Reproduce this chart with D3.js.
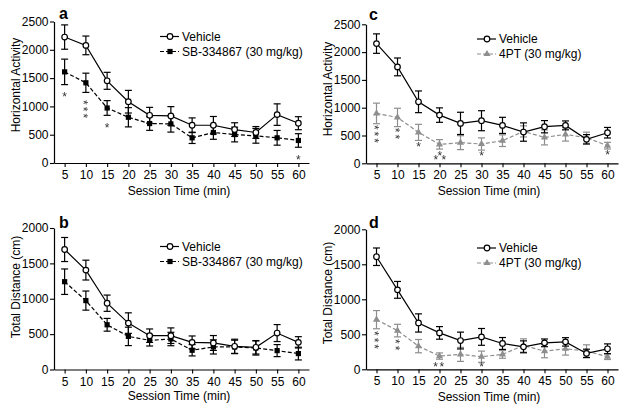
<!DOCTYPE html>
<html><head><meta charset="utf-8">
<script src="https://cdn.jsdelivr.net/npm/d3@7"></script>
<style>body{margin:0;background:#fff} svg{display:block} text{font-family:"Liberation Sans",Arial,Helvetica,sans-serif}</style>
</head><body><svg id="chart" width="627" height="412">
<defs><filter id="gray" x="-50%" y="-50%" width="200%" height="200%"><feColorMatrix type="saturate" values="0"/></filter></defs>
</svg>
<script>
const times = [5,10,15,20,25,30,35,40,45,50,55,60];
const yTicksHA = [0,500,1000,1500,2000,2500];
const yTicksTD = [0,500,1000,1500,2000];

const vehA = [2225,2078,1452,1083,843,831,667,667,591,539,855,703];
const vehAErr = [215,165,150,200,140,165,130,155,120,105,190,115];
const sbA = [1610,1417,972,808,697,691,445,539,503,480,445,398];
const sbAErr = [225,170,130,170,120,145,100,120,130,130,130,120];

const vehB = [1696,1405,937,656,478,478,384,375,328,314,515,384];
const vehBErr = [170,140,115,145,95,110,90,105,100,95,120,80];
const sbB = [1241,974,632,468,412,431,272,319,319,304,267,225];
const sbBErr = [180,135,90,130,80,95,80,100,95,100,85,90];

const vehC = [2153,1734,1106,867,718,766,682,562,658,682,431,550];
const vehCErr = [175,160,195,130,200,180,145,165,110,80,85,95];
const ptC = [897,825,556,341,371,347,407,574,466,520,460,317];
const ptCErr = [185,165,145,85,125,110,105,100,135,120,100,60];

const vehD = [1608,1135,662,520,411,463,369,321,378,392,227,293];
const vehDErr = [125,120,130,90,120,120,85,85,55,60,60,70];
const ptD = [709,553,331,189,213,180,213,340,260,293,260,180];
const ptDErr = [130,90,95,45,100,80,55,95,95,90,90,40];

// significance: [time, number of asterisks]
const sigA = [[5,1],[10,3],[15,1],[60,1]];
const sigB = [];
const sigC = [[5,3],[10,2],[15,1],[20,3],[30,1],[60,1]];
const sigD = [[5,3],[10,2],[20,2],[30,1]];

const vehicleLabel = "Vehicle";
const sbLabel = "SB-334867 (30 mg/kg)";
const ptLabel = "4PT (30 mg/kg)";
const yTitleHA = "Horizontal Activity";
const yTitleTD = "Total Distance (cm)";
const xTitle = "Session Time (min)";

const svg = d3.select("#chart");
const GRAY = "#8e8e8e";

function panel(cfg) {
  const g = svg.append("g");
  const x = d3.scaleLinear().domain([2.5, 62.5]).range([cfg.x0, cfg.x1]);
  const y = d3.scaleLinear().domain([0, cfg.ymax]).range([cfg.yb, cfg.yt]);

  const xa = g.append("g").attr("transform", `translate(0,${cfg.yb})`)
    .call(d3.axisBottom(x).tickValues(times).tickFormat(d3.format("d")).tickSize(4).tickSizeOuter(0).tickPadding(3.5));
  const ya = g.append("g").attr("transform", `translate(${cfg.x0},0)`)
    .call(d3.axisLeft(y).tickValues(cfg.yticks).tickFormat(d3.format("d")).tickSize(4).tickSizeOuter(0).tickPadding(1.5));
  [xa, ya].forEach(a => {
    a.selectAll("path.domain").attr("stroke", "#000").attr("stroke-width", 1.2);
    a.selectAll(".tick line").attr("stroke", "#000").attr("stroke-width", 1.1);
    a.selectAll("text").attr("font-size", 12).attr("fill", "#000")
      .attr("font-family", '"Liberation Sans",Arial,sans-serif');
  });

  // titles
  g.append("text").attr("transform", `translate(${cfg.ytx},${cfg.yty}) rotate(-90)`)
    .attr("text-anchor", "middle").attr("font-size", 12).text(cfg.ytitle);
  g.append("text").attr("x", cfg.xtx).attr("y", cfg.xty).attr("text-anchor", "middle")
    .attr("font-size", 12).text(xTitle);
  g.append("text").attr("x", cfg.lx).attr("y", cfg.ly).attr("font-size", 16)
    .attr("font-weight", "bold").text(cfg.letter);

  const series = [
    {vals: cfg.trt, err: cfg.trtErr, color: cfg.trtColor, dash: "4,2.2", marker: cfg.trtMarker},
    {vals: cfg.veh, err: cfg.vehErr, color: "#000", dash: null, marker: "circle"}
  ];
  const line = d3.line().x((d, i) => x(times[i])).y(d => y(d));
  series.forEach(s => {
    g.append("path").datum(s.vals).attr("d", line).attr("fill", "none")
      .attr("stroke", s.color).attr("stroke-width", 1.2).attr("stroke-dasharray", s.dash);
    const eb = g.append("g").attr("stroke", s.color).attr("stroke-width", 1.2);
    s.vals.forEach((v, i) => {
      const cx = x(times[i]), lo = y(v - s.err[i]), hi = y(v + s.err[i]);
      eb.append("line").attr("x1", cx).attr("x2", cx).attr("y1", lo).attr("y2", hi);
      eb.append("line").attr("x1", cx - 3.5).attr("x2", cx + 3.5).attr("y1", lo).attr("y2", lo);
      eb.append("line").attr("x1", cx - 3.5).attr("x2", cx + 3.5).attr("y1", hi).attr("y2", hi);
    });
    s.vals.forEach((v, i) => drawMarker(g, s.marker, x(times[i]), y(v), s.color));
  });

  // asterisks: one text element per time point
  const fs = 12, step = 6.7, adv = 0.389 * fs, up = 0.57 * fs;
  const sg = g.append("g").attr("filter", "url(#gray)");
  cfg.sig.forEach(([t, n]) => {
    const i = times.indexOf(t);
    const cx = x(t);
    const top = y(cfg.trt[i] - cfg.trtErr[i]) + cfg.gap;
    const txt = sg.append("text").attr("font-size", fs).attr("fill", "#333");
    if (n === 1) {
      txt.attr("x", cx).attr("y", Math.min(top, cfg.yb - 5) + up).attr("text-anchor", "middle").text("*");
    } else if (top + (n - 1) * step <= cfg.yb - 6) {
      // vertical stack: text runs downward
      txt.attr("transform", `translate(${cx - up},${top - adv / 2}) rotate(90)`)
        .attr("letter-spacing", step - adv).text("*".repeat(n));
    } else {
      const by = Math.min(cfg.yb - 5, top + 5);
      if (n === 2) {
        txt.attr("x", cx).attr("y", by + up).attr("text-anchor", "middle")
          .attr("letter-spacing", 1.5).text("**");
      } else {
        txt.attr("x", cx).attr("y", by + up).attr("text-anchor", "middle").attr("letter-spacing", -0.6);
        txt.append("tspan").text("*");
        txt.append("tspan").attr("dy", -4.5).text("*");
        txt.append("tspan").attr("dy", 4.5).text("*");
      }
    }
  });

  // legend
  const rows = [
    {label: vehicleLabel, color: "#000", dash: null, marker: "circle", y: cfg.legY},
    {label: cfg.trtLabel, color: cfg.trtColor, dash: "4,2", marker: cfg.trtMarker, y: cfg.legY + 15}
  ];
  rows.forEach(r => {
    g.append("line").attr("x1", cfg.legX).attr("x2", cfg.legX + 19).attr("y1", r.y).attr("y2", r.y)
      .attr("stroke", r.color).attr("stroke-width", 1.2).attr("stroke-dasharray", r.dash);
    drawMarker(g, r.marker, cfg.legX + 10, r.y, r.color);
    g.append("text").attr("x", cfg.legX + 22).attr("y", r.y + 4.3).attr("font-size", 12).text(r.label);
  });
}

function drawMarker(g, type, cx, cy, color) {
  if (type === "circle") {
    g.append("circle").attr("cx", cx).attr("cy", cy).attr("r", 2.8)
      .attr("fill", "#fff").attr("stroke", "#000").attr("stroke-width", 1.2);
  } else if (type === "square") {
    g.append("rect").attr("x", cx - 2.6).attr("y", cy - 2.6).attr("width", 5.2).attr("height", 5.2).attr("fill", color);
  } else {
    g.append("path").attr("d", d3.symbol(d3.symbolTriangle, 22)())
      .attr("transform", `translate(${cx},${cy})`).attr("fill", color);
  }
}

panel({x0: 54, x1: 309, yb: 163, yt: 21.5, ymax: 2500, yticks: yTicksHA,
  veh: vehA, vehErr: vehAErr, trt: sbA, trtErr: sbAErr, trtColor: "#000", trtMarker: "square",
  trtLabel: sbLabel, ytitle: yTitleHA, ytx: 20, yty: 85, xtx: 179, xty: 194.5,
  letter: "a", lx: 59, ly: 18.5, legX: 160, legY: 36.5, sig: sigA, gap: 10});
panel({x0: 54, x1: 309, yb: 369.5, yt: 228, ymax: 2000, yticks: yTicksTD,
  veh: vehB, vehErr: vehBErr, trt: sbB, trtErr: sbBErr, trtColor: "#000", trtMarker: "square",
  trtLabel: sbLabel, ytitle: yTitleTD, ytx: 20, yty: 287, xtx: 179, xty: 400,
  letter: "b", lx: 59, ly: 228, legX: 160, legY: 246.5, sig: sigB, gap: 10});
panel({x0: 366, x1: 618, yb: 163.3, yt: 24.3, ymax: 2500, yticks: yTicksHA,
  veh: vehC, vehErr: vehCErr, trt: ptC, trtErr: ptCErr, trtColor: GRAY, trtMarker: "triangle",
  trtLabel: ptLabel, ytitle: yTitleHA, ytx: 332, yty: 89, xtx: 489, xty: 194.5,
  letter: "c", lx: 369, ly: 19.5, legX: 477, legY: 39, sig: sigC, gap: 3.5});
panel({x0: 366, x1: 618, yb: 369.3, yt: 229.3, ymax: 2000, yticks: yTicksTD,
  veh: vehD, vehErr: vehDErr, trt: ptD, trtErr: ptDErr, trtColor: GRAY, trtMarker: "triangle",
  trtLabel: ptLabel, ytitle: yTitleTD, ytx: 332, yty: 293, xtx: 489, xty: 401,
  letter: "d", lx: 369, ly: 228, legX: 477, legY: 248, sig: sigD, gap: 4.5});
</script>
</body></html>
